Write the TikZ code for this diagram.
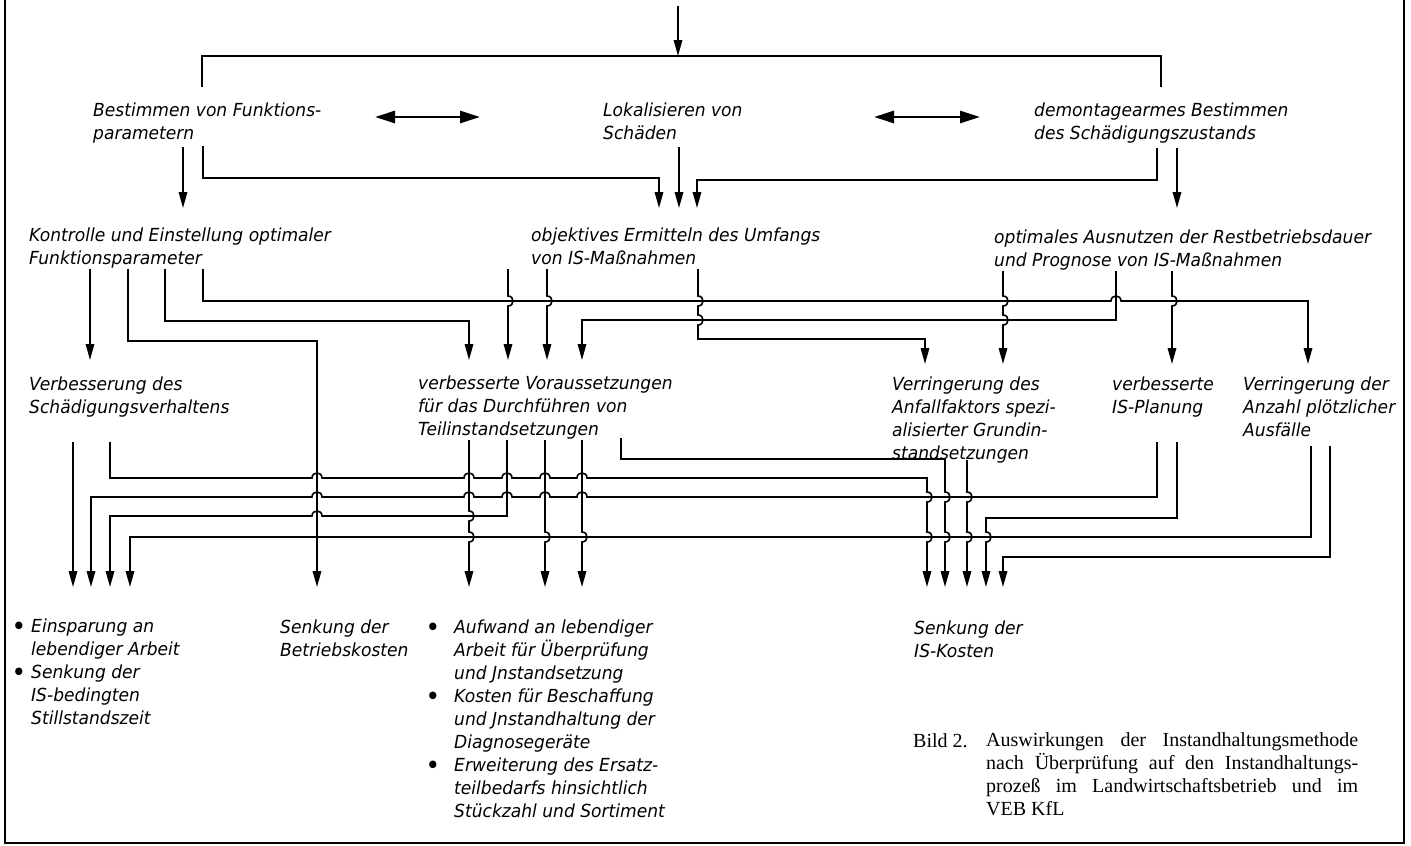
\documentclass[tikz,border=0pt]{standalone}
\usepackage{fontspec}
\setmainfont{Liberation Serif}
\newfontfamily\din[FakeStretch=0.95]{DejaVu Sans}
\usetikzlibrary{arrows.meta}
\tikzset{
  lab/.style={font=\din\itshape\fontsize{18}{23}\selectfont, align=left, inner sep=0pt, anchor=base west},
  conn/.style={line width=1.6pt, >={Triangle[length=16pt,width=8.5pt]}},
  dbl/.style={line width=2.8pt, {Triangle[length=20pt,width=12pt]}-{Triangle[length=20pt,width=12pt]}},
  frame/.style={line width=2pt},
  vj/.style 2 args={insert path={-- (#1,#2-5) .. controls (#1+6.7,#2-5) and (#1+6.7,#2+5) .. (#1,#2+5)}},
  hr/.style 2 args={insert path={-- (#1-5,#2) .. controls (#1-5,#2-6.7) and (#1+5,#2-6.7) .. (#1+5,#2)}},
  hl/.style 2 args={insert path={-- (#1+5,#2) .. controls (#1+5,#2-6.7) and (#1-5,#2-6.7) .. (#1-5,#2)}},
}
\newcommand{\bul}[1]{\llap{\raisebox{-3.5pt}{\fontsize{26}{23}\selectfont\textbullet}\hspace{#1}}}
\begin{document}
\begin{tikzpicture}[x=1pt,y=-1pt]
\useasboundingbox (0,0) rectangle (1411,846);
\draw[frame] (5,0) -- (5,843) -- (1404,843) -- (1404,0);

% texts (anchored at the baseline of the last line)
\node[lab] (bestimmen) at (93,139) {Bestimmen von Funktions-\\parametern};
\node[lab] (lokal) at (603,139) {Lokalisieren von\\Schäden};
\node[lab] (demont) at (1034,139) {demontagearmes Bestimmen\\des Schädigungszustands};
\node[lab] (kontr) at (29,264) {Kontrolle und Einstellung optimaler\\Funktionsparameter};
\node[lab] (objekt) at (531,264) {objektives Ermitteln des Umfangs\\von IS-Maßnahmen};
\node[lab] (optim) at (994,266) {optimales Ausnutzen der Restbetriebsdauer\\und Prognose von IS-Maßnahmen};
\node[lab] (verbS) at (29,413) {Verbesserung des\\Schädigungsverhaltens};
\node[lab] (verbV) at (418,435) {verbesserte Voraussetzungen\\für das Durchführen von\\Teilinstandsetzungen};
\node[lab] (verrA) at (892,459) {Verringerung des\\Anfallfaktors spezi-\\alisierter Grundin-\\standsetzungen};
\node[lab] (verbP) at (1112,413) {verbesserte\\IS-Planung};
\node[lab] (verrP) at (1243,436) {Verringerung der\\Anzahl plötzlicher\\Ausfälle};
\node[lab] (einsp) at (31,724) {\bul{5pt}Einsparung an\\lebendiger Arbeit\\\bul{5pt}Senkung der\\IS-bedingten\\Stillstandszeit};
\node[lab] (betrieb) at (280,656) {Senkung der\\Betriebskosten};
\node[lab] (aufw) at (454,817) {\bul{14pt}Aufwand an lebendiger\\Arbeit für Überprüfung\\und Jnstandsetzung\\\bul{14pt}Kosten für Beschaffung\\und Jnstandhaltung der\\Diagnosegeräte\\\bul{14pt}Erweiterung des Ersatz-\\teilbedarfs hinsichtlich\\Stückzahl und Sortiment};
\node[lab] (iskost) at (914,657) {Senkung der\\IS-Kosten};
\node[font=\fontsize{20}{22.7}\selectfont, inner sep=0pt, anchor=base west] (bild) at (913,747) {Bild 2.};
\node[font=\fontsize{20}{22.7}\selectfont, inner sep=0pt, anchor=base west, align=left] (capt) at (986,815)
 {\makebox[372pt][s]{Auswirkungen der Instandhaltungsmethode}\\
  \makebox[372pt][s]{nach Überprüfung auf den Instandhaltungs-}\\
  \makebox[372pt][s]{prozeß im Landwirtschaftsbetrieb und im}\\
  VEB KfL};

% double arrows
\coordinate (d1a) at (375,117); \coordinate (d1b) at (480,117);
\coordinate (d2a) at (874,117); \coordinate (d2b) at (980,117);
\draw[dbl] (d1a) -- (d1b);
\draw[dbl] (d2a) -- (d2b);

\begin{scope}[conn]
% top
\coordinate (in) at (678,6);
\draw[->] (in) -- (678,56);
\draw (202,87) -- (202,56) -- (1161,56) -- (1161,87);
% row 2
\draw[->] (183,147) -- (183,208);
\draw[->] (203,146) -- (203,178) -- (659,178) -- (659,208);
\draw[->] (679,147) -- (679,208);
\draw[->] (1157,148) -- (1157,180) -- (697,180) -- (697,208);
\draw[->] (1177,148) -- (1177,208);
% middle band
\draw[->] (90,269) -- (90,360);
\draw[->] (128,269) -- (128,341) -- (317,341) -- (317,587);
\draw[->] (165,269) -- (165,321) -- (469,321) -- (469,360);
\draw[->] (203,269) -- (203,301) [hr={1116}{301}] -- (1308,301) -- (1308,364);
\draw[->] (508,269) [vj={508}{301}] -- (508,360);
\draw[->] (547,269) [vj={547}{301}] -- (547,360);
\draw[->] (698,269) [vj={698}{301}] [vj={698}{320}] -- (698,339) -- (925,339) -- (925,364);
\draw[->] (1003,271) [vj={1003}{301}] [vj={1003}{320}] -- (1003,364);
\draw[->] (1116,271) -- (1116,320) -- (582,320) -- (582,360);
\draw[->] (1172,271) [vj={1172}{301}] -- (1172,364);
% lower band
\draw[->] (73,442) -- (73,587);
\draw[->] (110,442) -- (110,478) [hr={317}{478}] [hr={469}{478}] [hr={507}{478}] [hr={545}{478}] [hr={582}{478}] -- (927,478) [vj={927}{497}] [vj={927}{537}] -- (927,587);
\draw[->] (1157,442) -- (1157,497) [hl={582}{497}] [hl={545}{497}] [hl={507}{497}] [hl={469}{497}] [hl={317}{497}] -- (91,497) -- (91,587);
\draw[->] (507,440) -- (507,516) [hl={317}{516}] -- (110,516) -- (110,587);
\draw[->] (1311,446) -- (1311,537) -- (130,537) -- (130,587);
\draw[->] (469,440) [vj={469}{516}] [vj={469}{537}] -- (469,587);
\draw[->] (545,440) [vj={545}{537}] -- (545,587);
\draw[->] (582,440) [vj={582}{537}] -- (582,587);
\draw[->] (621,438) -- (621,459) -- (945,459) [vj={945}{497}] [vj={945}{537}] -- (945,587);
\draw[->] (967,460) [vj={967}{497}] [vj={967}{537}] -- (967,587);
\draw[->] (1177,442) -- (1177,518) -- (986,518) [vj={986}{537}] -- (986,587);
\draw[->] (1330,446) -- (1330,557) -- (1003,557) -- (1003,587);
\end{scope}
\end{tikzpicture}
\end{document}
